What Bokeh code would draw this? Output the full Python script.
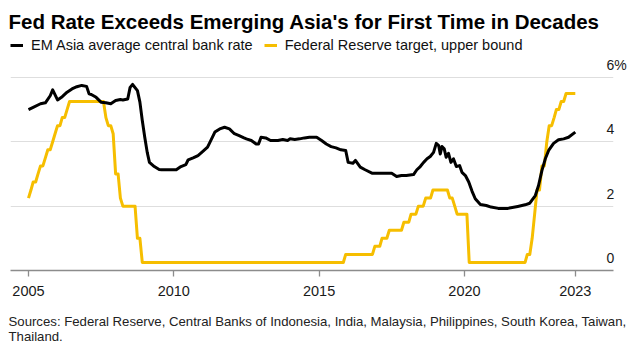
import pandas as pd
from bokeh.plotting import figure
from bokeh.models import (ColumnDataSource, Range1d, FixedTicker, DatetimeTickFormatter,
                          Legend, LegendItem, LinearAxis, Title)
from bokeh.embed import file_html
from bokeh.resources import INLINE

# ---------------- data ----------------
EM_DATES = [
    "2005-01-01", "2005-03-01", "2005-06-01", "2005-08-01", "2005-10-01", "2005-11-01",
    "2006-01-01", "2006-03-01", "2006-05-01", "2006-07-01", "2006-09-01", "2006-11-01",
    "2007-01-01", "2007-02-01", "2007-03-01", "2007-05-01", "2007-07-01", "2007-09-01",
    "2007-11-01", "2008-01-01", "2008-03-01", "2008-04-01", "2008-06-01", "2008-07-01",
    "2008-08-01", "2008-10-01", "2008-11-01", "2008-12-01", "2009-01-01", "2009-02-01",
    "2009-03-01", "2009-05-01", "2009-07-01", "2009-08-01", "2010-02-01", "2010-04-01",
    "2010-06-01", "2010-07-01", "2010-09-01", "2010-11-01", "2011-01-01", "2011-03-01",
    "2011-04-01", "2011-06-01", "2011-08-01", "2011-10-01", "2011-12-01", "2012-02-01",
    "2012-04-01", "2012-06-01", "2012-07-01", "2012-09-01", "2012-11-01", "2012-12-01",
    "2013-01-01", "2013-03-01", "2013-05-01", "2013-08-01", "2013-10-01", "2013-12-01",
    "2014-01-01", "2014-03-01", "2014-05-01", "2014-07-01", "2014-09-01", "2014-12-01",
    "2015-02-01", "2015-04-01", "2015-06-01", "2015-08-01", "2015-10-01", "2015-12-01",
    "2016-01-01", "2016-03-01", "2016-04-01", "2016-06-01", "2016-08-01", "2016-11-01",
    "2017-07-01", "2017-09-01", "2017-11-01", "2018-01-01", "2018-04-01", "2018-05-13",
    "2018-06-25", "2018-08-06", "2018-09-18", "2018-10-28", "2018-12-09", "2019-01-12",
    "2019-02-12", "2019-03-03", "2019-03-25", "2019-04-22", "2019-05-16", "2019-06-15",
    "2019-07-15", "2019-08-16", "2019-09-21", "2019-11-01", "2019-12-01", "2020-01-13",
    "2020-02-24", "2020-04-06", "2020-05-16", "2020-07-19", "2020-10-01", "2020-12-01",
    "2021-03-01", "2021-07-01", "2021-11-01", "2022-02-01", "2022-04-01", "2022-06-10",
    "2022-07-20", "2022-09-01", "2022-10-13", "2022-11-24", "2023-01-25", "2023-03-28",
    "2023-06-01", "2023-08-01", "2023-10-25",
]
EM_RATE = [
    5.00, 5.07, 5.18, 5.21, 5.43, 5.61,
    5.30, 5.40, 5.54, 5.64, 5.71, 5.75,
    5.72, 5.49, 5.47, 5.38, 5.23, 5.21,
    5.18, 5.28, 5.31, 5.30, 5.33, 5.69,
    5.78, 5.59, 5.23, 4.66, 4.14, 3.67,
    3.36, 3.23, 3.14, 3.13, 3.13, 3.23,
    3.29, 3.44, 3.50, 3.57, 3.70, 3.83,
    3.99, 4.30, 4.40, 4.45, 4.40, 4.25,
    4.19, 4.12, 4.09, 4.04, 3.93, 3.93,
    4.14, 4.12, 4.04, 4.04, 4.07, 4.04,
    4.09, 4.07, 4.09, 4.12, 4.14, 4.14,
    4.04, 3.93, 3.85, 3.81, 3.75, 3.73,
    3.36, 3.33, 3.42, 3.21, 3.13, 3.02,
    3.02, 2.92, 2.95, 2.95, 2.98, 3.13,
    3.23, 3.36, 3.47, 3.54, 3.67, 3.95,
    3.88, 3.62, 3.85, 3.78, 3.52, 3.64,
    3.36, 3.47, 3.23, 3.26, 3.05, 2.95,
    2.75, 2.46, 2.23, 2.05, 2.02, 1.97,
    1.93, 1.93, 1.99, 2.04, 2.09, 2.33,
    2.64, 3.11, 3.47, 3.73, 3.95, 4.06,
    4.09, 4.14, 4.30,
]

FED_DATES = [
    "2005-01-01", "2005-02-01", "2005-03-01", "2005-04-01", "2005-05-01", "2005-06-01",
    "2005-07-01", "2005-08-01", "2005-09-01", "2005-10-01", "2005-11-01", "2005-12-01",
    "2006-01-01", "2006-02-01", "2006-03-01", "2006-04-01", "2006-05-01", "2006-06-01",
    "2007-08-01", "2007-09-01", "2007-10-01", "2007-11-01", "2007-12-01", "2008-01-01",
    "2008-02-01", "2008-03-01", "2008-04-01", "2008-09-01", "2008-10-01", "2008-11-01",
    "2008-12-01", "2015-11-01", "2015-12-01", "2016-11-01", "2016-12-01", "2017-02-01",
    "2017-03-01", "2017-05-01", "2017-06-01", "2017-11-01", "2017-12-01", "2018-02-01",
    "2018-03-01", "2018-05-01", "2018-06-01", "2018-08-01", "2018-09-01", "2018-11-01",
    "2018-12-01", "2019-06-01", "2019-07-01", "2019-08-01", "2019-09-01", "2019-10-01",
    "2020-02-01", "2020-03-01", "2022-02-01", "2022-03-01", "2022-04-01", "2022-05-01",
    "2022-06-01", "2022-07-01", "2022-08-01", "2022-09-01", "2022-10-01", "2022-11-01",
    "2022-12-01", "2023-01-01", "2023-02-01", "2023-03-01", "2023-04-01", "2023-05-01",
    "2023-06-01", "2023-07-01", "2023-10-25",
]
FED_RATE = [
    2.25, 2.50, 2.75, 2.75, 3.00, 3.25,
    3.25, 3.50, 3.75, 3.75, 4.00, 4.25,
    4.50, 4.50, 4.75, 4.75, 5.00, 5.25,
    5.25, 4.75, 4.50, 4.50, 4.25, 3.00,
    3.00, 2.25, 2.00, 2.00, 1.00, 1.00,
    0.25, 0.25, 0.50, 0.50, 0.75, 0.75,
    1.00, 1.00, 1.25, 1.25, 1.50, 1.50,
    1.75, 1.75, 2.00, 2.00, 2.25, 2.25,
    2.50, 2.50, 2.25, 2.25, 2.00, 1.75,
    1.75, 0.25, 0.25, 0.50, 0.50, 1.00,
    1.75, 2.50, 2.50, 3.25, 3.25, 4.00,
    4.50, 4.50, 4.75, 5.00, 5.00, 5.25,
    5.25, 5.50, 5.50,
]

Y_TICKS = [0, 2, 4, 6]
Y_TOP_LABEL = "6%"
X_TICK_YEARS = ["2005-01-01", "2010-01-01", "2015-01-01", "2020-01-01"]

TITLE = "Fed Rate Exceeds Emerging Asia's for First Time in Decades"
SERIES_NAMES = ["EM Asia average central bank rate", "Federal Reserve target, upper bound"]
SOURCE = ("Sources: Federal Reserve, Central Banks of Indonesia, India, Malaysia, "
          "Philippines, South Korea, Taiwan,\nThailand.")

# ---------------- styling ----------------
FONT = "Liberation Sans"
BLACK = "#000000"
YELLOW = "#F6BE00"
Y_MAX = 7.27
LABEL_SHIFT = 0.39   # y labels sit above their gridlines

em = ColumnDataSource(dict(x=pd.to_datetime(EM_DATES), y=EM_RATE))
fed = ColumnDataSource(dict(x=pd.to_datetime(FED_DATES), y=FED_RATE))

x_start = pd.Timestamp("2004-05-20")
x_end = pd.Timestamp("2025-02-16")

p = figure(width=640, height=356, output_backend="svg", toolbar_location=None,
           x_axis_type="datetime", y_axis_location=None,
           x_range=Range1d(x_start, x_end), y_range=Range1d(0, Y_MAX),
           min_border_left=10, min_border_right=27, min_border_top=36, min_border_bottom=86)
p.outline_line_color = None
p.background_fill_color = "white"
p.border_fill_color = "white"

# title
p.title.text = TITLE
p.title.text_font = FONT
p.title.text_font_size = "20.5px"
p.title.text_font_style = "bold"
p.title.text_color = "#000000"
p.title.align = "left"
p.title.offset = -2
p.title.standoff = 8

# grid
p.xgrid.visible = False
p.ygrid.ticker = FixedTicker(ticks=[t for t in Y_TICKS if t > 0])
p.ygrid.grid_line_color = "#DEDEDE"
p.ygrid.grid_line_width = 1.2

# lines
r_fed = p.line("x", "y", source=fed, line_color=YELLOW, line_width=3, line_join="round")
r_em = p.line("x", "y", source=em, line_color=BLACK, line_width=3, line_join="round")

# x axis
xt = [pd.Timestamp(d).value / 1e6 for d in X_TICK_YEARS] + [pd.Timestamp(EM_DATES[-1]).value / 1e6]
ax = p.xaxis[0]
ax.ticker = FixedTicker(ticks=xt)
ax.formatter = DatetimeTickFormatter(years="%Y", months="%Y", days="%Y", hours="%Y",
                                     hourmin="%Y", minutes="%Y", minsec="%Y", seconds="%Y",
                                     milliseconds="%Y", microseconds="%Y", context=None)
ax.axis_line_color = "#8C8C8C"
ax.axis_line_width = 1.3
ax.major_tick_line_color = "#8C8C8C"
ax.major_tick_line_width = 1.3
ax.major_tick_in = 0
ax.major_tick_out = 6
ax.minor_tick_line_color = None
ax.major_label_standoff = 9
ax.major_label_text_font = FONT
ax.major_label_text_font_size = "14.5px"
ax.major_label_text_color = "#1A1A1A"

# right-hand value labels, drawn on a shifted range so they sit above the gridlines
p.extra_y_ranges = {"labels": Range1d(-LABEL_SHIFT, Y_MAX - LABEL_SHIFT)}
yax = LinearAxis(y_range_name="labels", ticker=FixedTicker(ticks=Y_TICKS),
                 major_label_overrides={Y_TICKS[-1]: Y_TOP_LABEL})
yax.axis_line_color = None
yax.major_tick_line_color = None
yax.minor_tick_line_color = None
yax.major_tick_in = 0
yax.major_tick_out = 0
yax.major_label_standoff = -7
yax.major_label_text_font = FONT
yax.major_label_text_font_size = "14px"
yax.major_label_text_color = "#1A1A1A"
p.add_layout(yax, "right")

# legend
legend = Legend(items=[LegendItem(label=SERIES_NAMES[0], renderers=[r_em]),
                       LegendItem(label=SERIES_NAMES[1], renderers=[r_fed])],
                orientation="horizontal", location="top_left",
                margin=0, padding=0, spacing=11, label_standoff=8,
                glyph_width=13, glyph_height=18, label_height=18,
                label_text_font=FONT, label_text_font_size="14.5px", label_text_color="#111111",
                border_line_color=None, background_fill_alpha=0)
p.add_layout(legend)

# sources
src = Title(text=SOURCE, align="left", text_font=FONT, text_font_size="13.2px",
            text_font_style="normal", text_color="#222222", offset=-2, standoff=26,
            text_line_height=1.0)
p.add_layout(src, "below")

open("out.html", "w").write(file_html(p, INLINE))
